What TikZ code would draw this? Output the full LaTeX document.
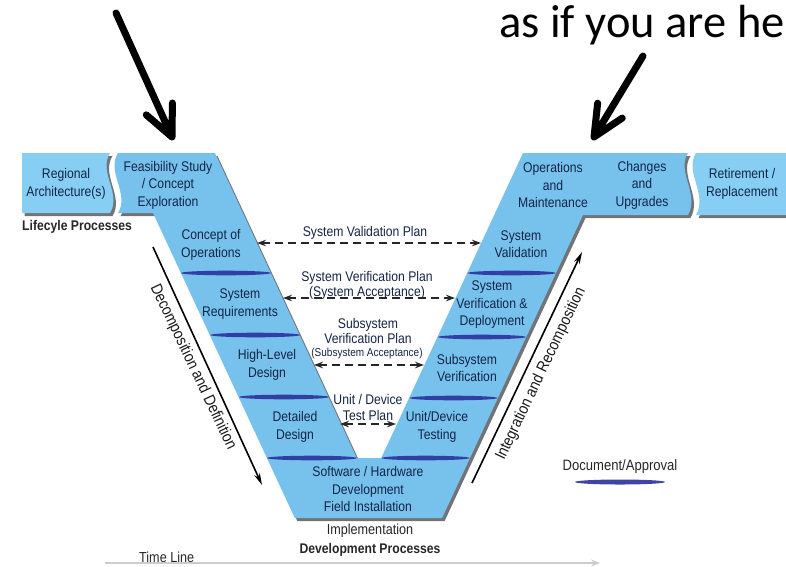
\documentclass[tikz,border=0pt]{standalone}
\usepackage{fontspec}
\setmainfont{Liberation Sans}[FakeStretch=0.87]
\newfontfamily\calib{Carlito}
\usetikzlibrary{arrows.meta,calc,shadows}
\definecolor{armblue}{RGB}{118,194,237}
\definecolor{boxblue}{RGB}{134,206,243}
\definecolor{bandblue}{RGB}{42,48,155}
\definecolor{txtnavy}{RGB}{20,36,70}
\definecolor{shadowgray}{RGB}{55,55,60}
\begin{document}
\begin{tikzpicture}[x=1pt,y=-1pt,
  lbl/.style={font=\fontsize{14}{17.5}\selectfont, text=txtnavy, align=center, inner sep=0pt},
  tightlbl/.style={lbl, font=\fontsize{14}{15}\selectfont},
  smalllbl/.style={lbl, font=\fontsize{11.5}{13}\selectfont},
  boldlbl/.style={font=\bfseries\fontsize{14}{17}\selectfont, text=black!85, inner sep=0pt},
  plainlbl/.style={font=\fontsize{14.5}{17}\selectfont, text=black!85, inner sep=0pt},
  diaglbl/.style={font=\fontsize{16}{18}\selectfont, text=black!90, inner sep=0pt},
  shapefill/.style={fill=armblue, drop shadow={shadow xshift=2.5pt, shadow yshift=-3pt, fill=shadowgray, opacity=0.7}},
  boxfill/.style={fill=boxblue, drop shadow={shadow xshift=2.5pt, shadow yshift=-3pt, fill=shadowgray, opacity=0.7}},
  band/.style={fill=bandblue, opacity=0.9},
  plan/.style={line width=1.7pt, dash pattern=on 8pt off 5pt, draw=black!85, {Stealth[length=9pt,width=6.5pt]}-{Stealth[length=9pt,width=6.5pt]}},
  diag/.style={line width=1.6pt, draw=black, -{Stealth[length=12pt,width=6pt]}},
  bigarrow/.style={line width=7pt, line cap=round, line join=round, draw=black},
  timeline/.style={line width=1.5pt, draw=black!20, -{Stealth[length=9pt,width=7pt]}}]
\useasboundingbox (0,0) rectangle (786,566);

% ---- top text and pointer arrows
\node[anchor=base west, font=\calib\fontsize{46.5}{50}\selectfont, inner sep=0pt] (here) at (499,37) {as if you are he};
\coordinate (la0) at (116,13);
\coordinate (la1) at (172,137);
\draw[bigarrow] (la0) -- (la1) -- ($(la1)!34pt!25:(la0)$) (la1) -- ($(la1)!34pt!-25:(la0)$);
\coordinate (ra0) at (643,56);
\coordinate (ra1) at (594,137);
\draw[bigarrow] (ra0) -- (ra1) -- ($(ra1)!34pt!25:(ra0)$) (ra1) -- ($(ra1)!34pt!-25:(ra0)$);

% ---- banners and V shape
\path[boxfill] (22,153) -- (110,153) .. controls (98,172) and (122,194) .. (110,213) -- (22,213) -- cycle;
\path[boxfill] (696,153) .. controls (684,172) and (708,194) .. (696,215) -- (795,215) -- (795,153) -- cycle;
\path[shapefill] (118,153) -- (215,153) -- (356.8,458) -- (381.2,458) -- (523,153) -- (688,153)
   .. controls (676,172) and (700,194) .. (688,215) -- (583,215) -- (442.1,518) -- (294.8,518)
   -- (153,213) -- (118,213) .. controls (130,194) and (106,172) .. (118,153) -- cycle;

% ---- document / approval bands
\fill[band] (225.9,273) ellipse [x radius=45pt, y radius=2.3pt];
\fill[band] (255.2,335) ellipse [x radius=45pt, y radius=2.3pt];
\fill[band] (284.0,397) ellipse [x radius=45pt, y radius=2.3pt];
\fill[band] (311.9,458) ellipse [x radius=45pt, y radius=2.3pt];
\fill[band] (511.6,273) ellipse [x radius=44pt, y radius=2.3pt];
\fill[band] (481.9,337) ellipse [x radius=44pt, y radius=2.3pt];
\fill[band] (453.5,398) ellipse [x radius=44pt, y radius=2.3pt];
\fill[band] (425.6,458) ellipse [x radius=44pt, y radius=2.3pt];

% ---- labels on the V
\node[lbl] (regional) at (66,184) {Regional\\Architecture(s)};
\node[lbl] (feas) at (168,185) {Feasibility Study\\/ Concept\\Exploration};
\node[boldlbl, anchor=west] (life) at (22,227) {Lifecyle Processes};
\node[lbl] (conops) at (211,245) {Concept of\\Operations};
\node[lbl] (sysreq) at (240,304) {System\\Requirements};
\node[lbl] (hld) at (267,365) {High-Level\\Design};
\node[lbl] (dd) at (295,427) {Detailed\\Design};
\node[lbl] (sw) at (368,489) {Software / Hardware\\Development\\Field Installation};
\node[lbl] (ops) at (553,185) {Operations\\and\\Maintenance};
\node[lbl] (chg) at (642,185) {Changes\\and\\Upgrades};
\node[lbl] (ret) at (742,184) {Retirement /\\Replacement};
\node[lbl] (sval) at (521,244) {System\\Validation};
\node[lbl] (sver) at (492,305) {System\\Verification \&\\Deployment};
\node[lbl] (ssver) at (467,368) {Subsystem\\Verification};
\node[lbl] (udt) at (437,427) {Unit/Device\\Testing};

% ---- plans between the arms
\node[lbl] (svp) at (365,233) {System Validation Plan};
\node[tightlbl] (sverp) at (367,285) {System Verification Plan\\(System Acceptance)};
\node[tightlbl] (ssvp) at (368,331) {Subsystem\\Verification Plan};
\node[smalllbl] (ssacc) at (367,354) {(Subsystem Acceptance)};
\node[lbl, font=\fontsize{14}{16}\selectfont] (udtp) at (368,407) {Unit / Device\\Test Plan};

\coordinate (p1l) at (257,243);   \coordinate (p1r) at (481,243);
\coordinate (p2l) at (283,298);   \coordinate (p2r) at (455,298);
\coordinate (p3l) at (314,365);   \coordinate (p3r) at (424,365);
\coordinate (p4l) at (340,424);   \coordinate (p4r) at (396,424);
\draw[plan] (p1l) -- (p1r);
\draw[plan] (p2l) -- (p2r);
\draw[plan] (p3l) -- (p3r);
\draw[plan] (p4l) -- (p4r);

% ---- diagonal process arrows
\coordinate (d0) at (153,247);
\coordinate (d1) at (262,485);
\draw[diag] (d0) -- (d1);
\node[diaglbl, rotate=-64.6] (decomp) at (193,367) {Decomposition and Definition};
\coordinate (i0) at (472,483);
\coordinate (i1) at (582,252);
\draw[diag] (i0) -- (i1);
\node[diaglbl, rotate=64.5] (integ) at (541,374) {Integration and Recomposition};

% ---- bottom texts
\node[plainlbl] (impl) at (370,531) {Implementation};
\node[boldlbl] (devproc) at (370,550) {Development Processes};
\node[plainlbl, anchor=west] (time) at (139,557) {Time Line};
\coordinate (t0) at (105,563);
\coordinate (t1) at (600,563);
\draw[timeline] (t0) -- (t1);

% ---- legend
\node[plainlbl, font=\fontsize{15}{17}\selectfont] (docapp) at (620,467) {Document/Approval};
\fill[band] (620,482) ellipse [x radius=45pt, y radius=2.5pt];
\end{tikzpicture}
\end{document}
